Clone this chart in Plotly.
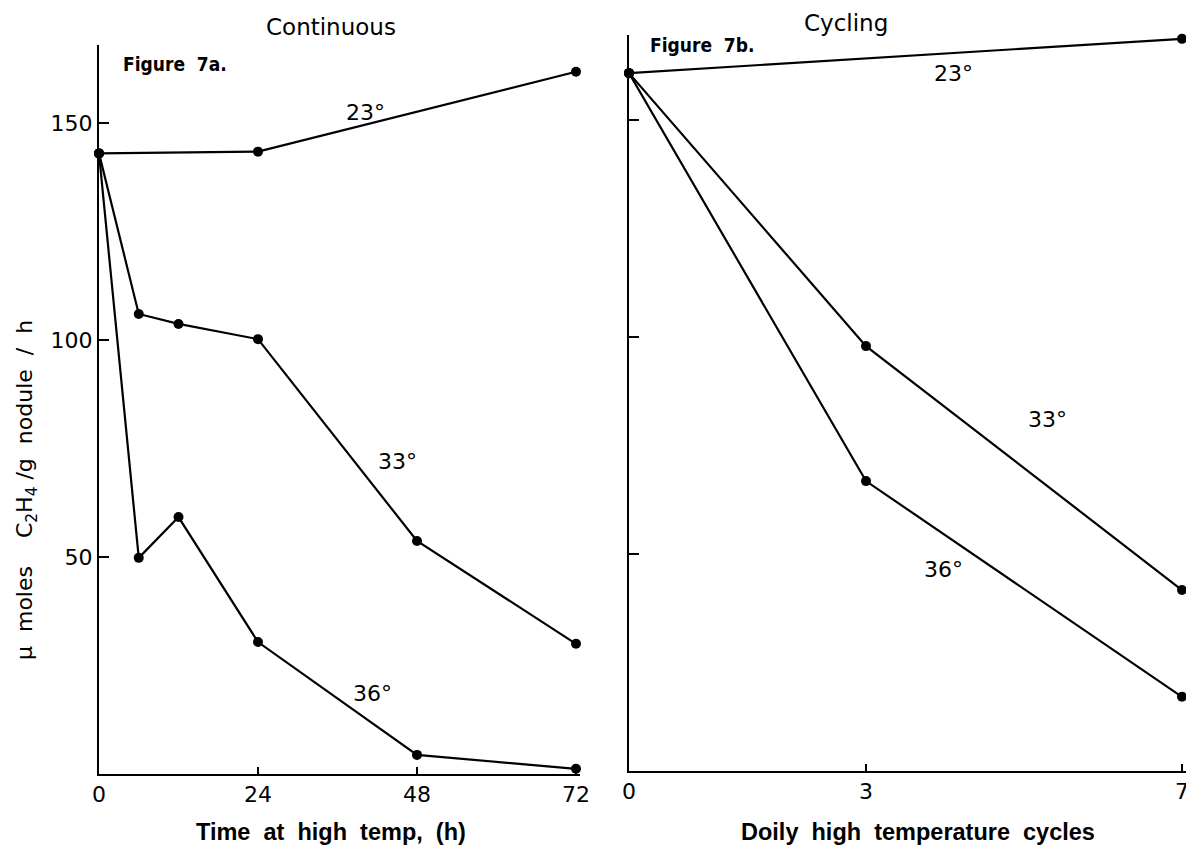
import plotly.graph_objects as go

# ---- data ----
hours = [0, 6, 12, 24, 48, 72]
cont_23_x = [0, 24, 72]
cont_23 = [143, 143.4, 161.8]
cont_33 = [143, 106, 103.7, 100.2, 53.7, 30.0]
cont_36 = [143, 49.8, 59.2, 30.4, 4.4, 1.2]

cycles = [0, 3, 7]
cyc_23_x = [0, 7]
cyc_23 = [160.8, 168.7]
cyc_33 = [160.8, 97.9, 41.7]
cyc_36 = [160.8, 66.8, 17.1]

left_ticks = [0, 24, 48, 72]
right_ticks = [0, 3, 7]
y_ticks = [50, 100, 150]

W, H = 1186, 846
LINE = dict(color="black", width=2.2)
MARK = dict(color="black", size=10)
TICKFONT = dict(family="DejaVu Sans", size=22, color="black")

fig = go.Figure()

def add(x, y, xa, ya):
    fig.add_trace(go.Scatter(x=x, y=y, mode="lines+markers", line=LINE, marker=MARK,
                             xaxis=xa, yaxis=ya, cliponaxis=False, showlegend=False,
                             hoverinfo="skip"))

add(cont_23_x, cont_23, "x", "y")
add(hours, cont_33, "x", "y")
add(hours, cont_36, "x", "y")
add(cyc_23_x, cyc_23, "x2", "y2")
add(cycles, cyc_33, "x2", "y2")
add(cycles, cyc_36, "x2", "y2")

px_per_unit = 4.34
# panel geometry (pixels)
L_x0, L_x1, L_yb, L_yt = 99, 580, 774, 45
R_x0, R_x1, R_yb, R_yt = 629, 1186, 771, 35

axis_common = dict(showline=True, linecolor="black", linewidth=2, showgrid=False,
                   zeroline=False, ticks="inside", tickwidth=2, tickcolor="black",
                   tickfont=TICKFONT, ticklabeloverflow="allow", automargin=False)

fig.update_layout(
    width=W, height=H, margin=dict(l=0, r=0, t=0, b=0, autoexpand=False),
    paper_bgcolor="white", plot_bgcolor="white",
    xaxis=dict(domain=[L_x0 / W, L_x1 / W], range=[0, (L_x1 - L_x0) / 6.625],
               tickvals=left_ticks, ticklen=7, anchor="y", **axis_common),
    yaxis=dict(domain=[1 - L_yb / H, 1 - L_yt / H],
               range=[0, (L_yb - L_yt) / px_per_unit],
               tickvals=y_ticks, ticklen=10, anchor="x", **axis_common),
    xaxis2=dict(domain=[R_x0 / W, 1.0], range=[0, 7 * (R_x1 - R_x0) / (1182 - R_x0)],
                tickvals=right_ticks, ticklen=7, anchor="y2", **axis_common),
    yaxis2=dict(domain=[1 - R_yb / H, 1 - R_yt / H],
                range=[0, (R_yb - R_yt) / px_per_unit],
                tickvals=y_ticks, ticklen=10, showticklabels=False, anchor="x2",
                **axis_common),
)

def ann(text, x, y, size=20, family="DejaVu Sans", xref="paper", yref="paper", **kw):
    if xref == "paper":
        x = x / W
    if yref == "paper":
        y = 1 - y / H
    fig.add_annotation(text=text, x=x, y=y, xref=xref, yref=yref, showarrow=False,
                       xanchor="center", yanchor="middle",
                       font=dict(family=family, size=size, color="black"), **kw)

# panel titles
ann("Continuous", 331, 27, size=23)
ann("Cycling", 846, 23, size=23)
ann("<b>Figure  7a.</b>", 175, 64, size=19, family="DejaVu Sans Condensed")
ann("<b>Figure  7b.</b>", 702, 45, size=19, family="DejaVu Sans Condensed")

# series labels (data coordinates)
ann("23°", 40.3, 152.5, size=22, xref="x", yref="y")
ann("33°", 45.0, 72.0, size=22, xref="x", yref="y")
ann("36°", 41.3, 18.5, size=22, xref="x", yref="y")
ann("23°", 4.11, 160.8, size=22, xref="x2", yref="y2")
ann("33°", 5.3, 81.0, size=22, xref="x2", yref="y2")
ann("36°", 3.98, 46.5, size=22, xref="x2", yref="y2")

# axis titles
ann("<b>Time  at  high  temp,  (h)</b>", 331, 832, size=23.5, family="Liberation Sans")
ann("<b>Doily  high  temperature  cycles</b>", 918, 832, size=23.5, family="Liberation Sans")
ann("μ  moles    C<sub>2</sub>H<sub>4</sub> /g  nodule  /  h", 27, 490, size=22, textangle=-90)

fig.write_html("out.html")
